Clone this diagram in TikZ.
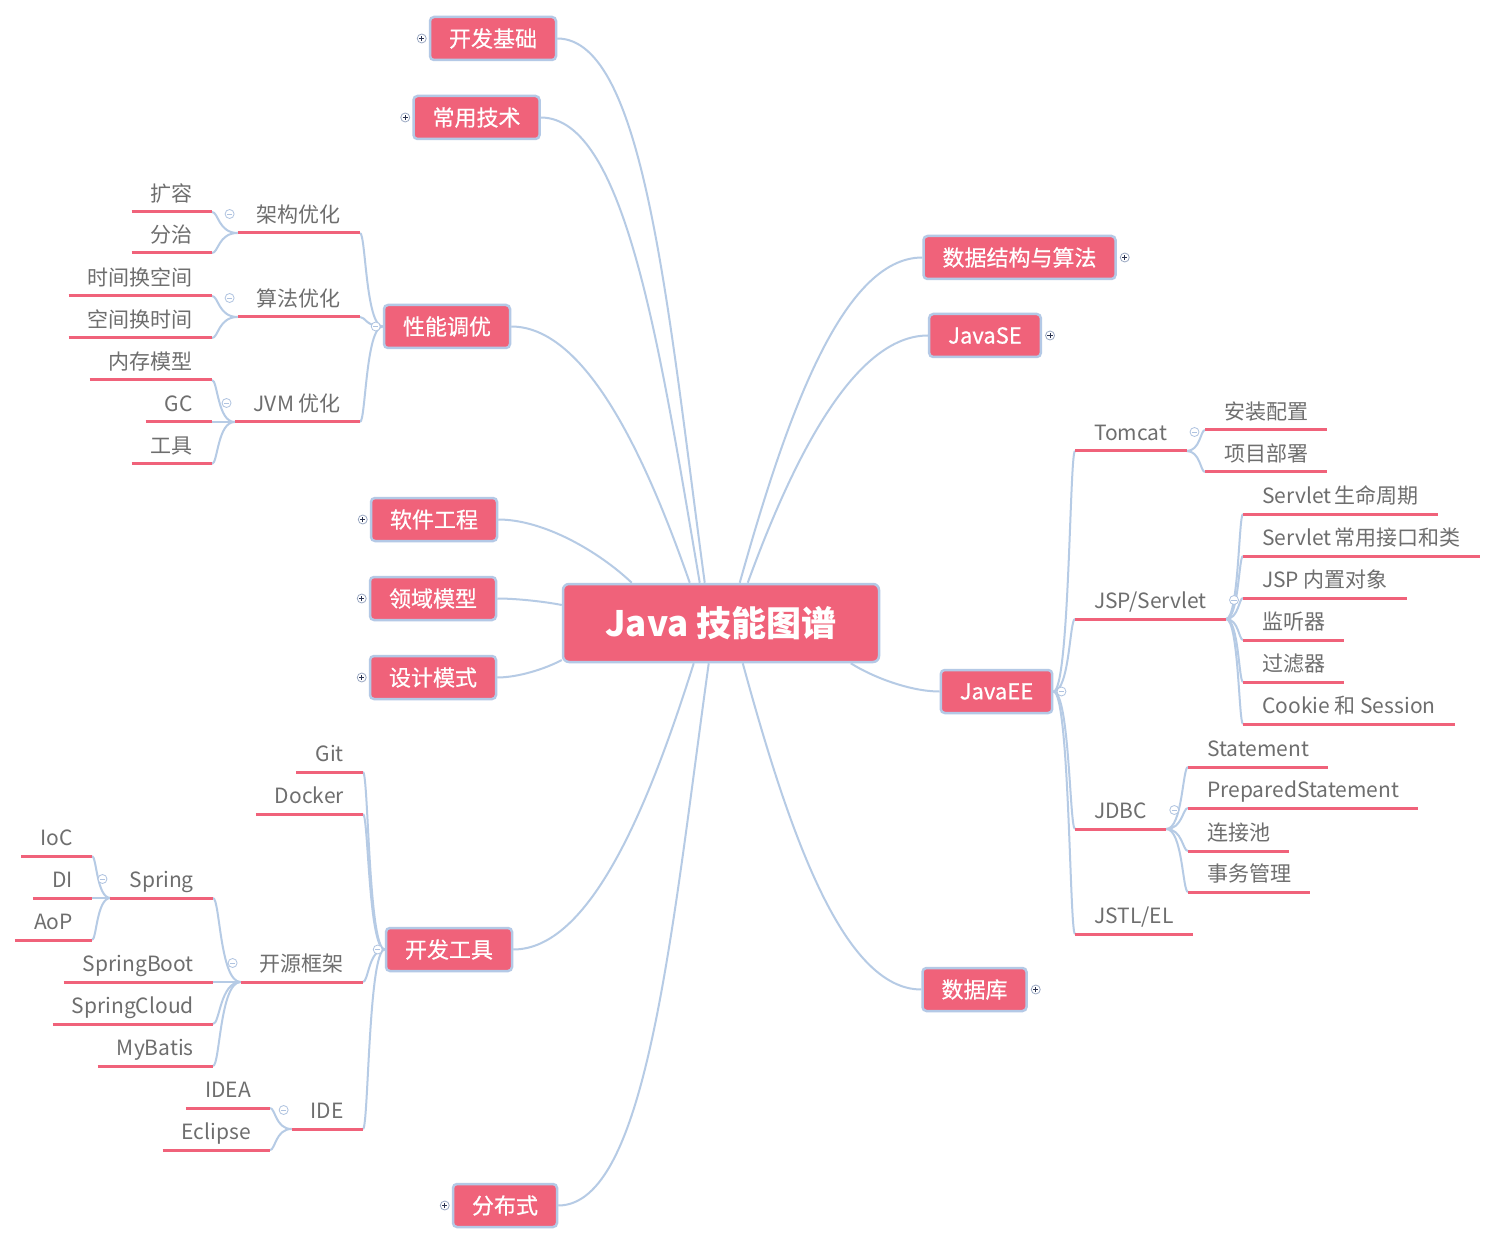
\documentclass[tikz,border=0pt]{standalone}
\usepackage{fontspec}
\setmainfont{Noto Sans CJK SC}
\newfontfamily\mmmedium{Noto Sans CJK SC}[FakeBold=0.6]
\usetikzlibrary{calc,backgrounds}
\pgfdeclarelayer{paper}
\pgfsetlayers{paper,background,main}
\definecolor{mmpink}{HTML}{F0627A}
\definecolor{mmline}{HTML}{B6CBE5}
\definecolor{mmborder}{HTML}{B4C9E6}
\definecolor{mmgray}{HTML}{6E6E6E}
\definecolor{btnring}{HTML}{9AA8C2}
\definecolor{btnsign}{HTML}{2B3350}
\definecolor{colring}{HTML}{AFC3E0}
\tikzset{
  conn/.style={draw=mmline, line width=2pt},
  branchbox/.style={draw=mmborder, line width=2.5pt, fill=mmpink, rounded corners=4pt, text=white, font=\mmmedium\fontsize{22}{26}\selectfont, inner xsep=19pt, inner ysep=0pt, minimum height=43pt},
  rootbox/.style={draw=mmborder, line width=2.5pt, fill=mmpink, rounded corners=6pt, text=white, font=\fontsize{35}{40}\selectfont\bfseries, minimum width=316pt, minimum height=78pt},
  uline/.style={draw=mmpink, line width=3pt},
  leafbase/.style={text=mmgray, font=\fontsize{21}{25}\selectfont, inner xsep=19pt, inner ysep=5pt, text height=15pt, text depth=5pt, append after command={(\tikzlastnode.south west) edge[uline] (\tikzlastnode.south east)}},
  leafL/.style={leafbase, anchor=south east},
  leafR/.style={leafbase, anchor=south west},
  expbtn/.style={circle, draw=btnring, fill=white, line width=0.8pt, minimum size=9pt, inner sep=0pt, path picture={\draw[btnsign, line width=0.9pt] ([xshift=-2.6pt]path picture bounding box.center) -- ([xshift=2.6pt]path picture bounding box.center) ([yshift=-2.6pt]path picture bounding box.center) -- ([yshift=2.6pt]path picture bounding box.center);}},
  colbtn/.style={circle, draw=colring, fill=white, line width=0.8pt, minimum size=9pt, inner sep=0pt, path picture={\draw[colring, line width=0.9pt] ([xshift=-2.6pt]path picture bounding box.center) -- ([xshift=2.6pt]path picture bounding box.center);}},
}
\newcommand\mmroot[3]{\draw[conn] let \p1=(#2), \p2=(#3) in (\p1) .. controls ({\x1+0.3*(\x2-\x1)#1 0.08*abs(\y2-\y1)},\y1) and ({\x2-0.25*(\x2-\x1)},{0.5*(\y1+\y2)}) .. (\p2);}
\newcommand\mmsub[2]{\draw[conn] let \p1=(#1), \p2=(#2) in (\p1) .. controls ({\x2+0.25*(\x1-\x2)},\y1) and ({\x2+0.25*(\x1-\x2)},\y2) .. (\p2);}
\begin{document}
\begin{tikzpicture}[x=1pt,y=-1pt]
\begin{pgfonlayer}{paper}
\fill[white] (0,0) rectangle (1500,1246);
\end{pgfonlayer}
\path[use as bounding box] (0,0) rectangle (1500,1246);

% root and main branches
\node[rootbox] (root) at (721,623) {Java 技能图谱};
\node[branchbox] (kfjc) at (493,38.5) {开发基础};
\node[branchbox] (cyjs) at (476.5,117.5) {常用技术};
\node[branchbox] (xntu) at (447,326.5) {性能调优};
\node[branchbox] (rjgc) at (434,519.5) {软件工程};
\node[branchbox] (lymx) at (433,598.5) {领域模型};
\node[branchbox] (sjms) at (433,677.5) {设计模式};
\node[branchbox] (kfgj) at (449,949.5) {开发工具};
\node[branchbox] (fbs) at (505,1205.5) {分布式};
\node[branchbox] (sjjg) at (1019.5,257.5) {数据结构与算法};
\node[branchbox] (jse) at (985,335.5) {JavaSE};
\node[branchbox] (jee) at (996.5,691.5) {JavaEE};
\node[branchbox] (sjk) at (974.5,989.5) {数据库};

% performance subtree
\node[leafL] (jg) at (360,233) {架构优化};
\node[leafL] (sf) at (360,317) {算法优化};
\node[leafL] (jvm) at (360,422) {JVM 优化};
\node[leafL] (ky) at (212,212) {扩容};
\node[leafL] (fz) at (212,253) {分治};
\node[leafL] (sjhk) at (212,296) {时间换空间};
\node[leafL] (kjhs) at (212,338) {空间换时间};
\node[leafL] (nc) at (212,380) {内存模型};
\node[leafL] (gc) at (212,422) {GC};
\node[leafL] (gj) at (212,464) {工具};

% JavaEE subtree
\node[leafR] (tomcat) at (1075,451) {Tomcat};
\node[leafR] (jsp) at (1075,619) {JSP/Servlet};
\node[leafR] (jdbc) at (1075,829) {JDBC};
\node[leafR] (jstl) at (1075,934) {JSTL/EL};
\node[leafR] (azpz) at (1205,430) {安装配置};
\node[leafR] (xmbs) at (1205,472) {项目部署};
\node[leafR] (sv1) at (1243,514) {Servlet\hspace{3pt}生命周期};
\node[leafR] (sv2) at (1243,556) {Servlet\hspace{3pt}常用接口和类};
\node[leafR] (sv3) at (1243,598) {JSP 内置对象};
\node[leafR] (sv4) at (1243,640) {监听器};
\node[leafR] (sv5) at (1243,682) {过滤器};
\node[leafR] (sv6) at (1243,724) {Cookie 和 Session};
\node[leafR] (jd1) at (1188,767) {Statement};
\node[leafR] (jd2) at (1188,808) {PreparedStatement};
\node[leafR] (jd3) at (1188,851) {连接池};
\node[leafR] (jd4) at (1188,892) {事务管理};

% tools subtree
\node[leafL] (git) at (363,772) {Git};
\node[leafL] (docker) at (363,814) {Docker};
\node[leafL] (kyjk) at (363,982) {开源框架};
\node[leafL] (ide) at (363,1129) {IDE};
\node[leafL] (spring) at (213,898) {Spring};
\node[leafL] (sboot) at (213,982) {SpringBoot};
\node[leafL] (scloud) at (213,1024) {SpringCloud};
\node[leafL] (mybatis) at (213,1066) {MyBatis};
\node[leafL] (ioc) at (92,856) {IoC};
\node[leafL] (di) at (92,898) {DI};
\node[leafL] (aop) at (92,940) {AoP};
\node[leafL] (idea) at (270,1108) {IDEA};
\node[leafL] (eclipse) at (270,1150) {Eclipse};

\begin{scope}[on background layer]
% root connectors
\mmroot{+}{kfjc.east}{$(root.north west)+(143,0)$}
\mmroot{+}{cyjs.east}{$(root.north west)+(138,0)$}
\mmroot{+}{xntu.east}{$(root.north west)+(128,0)$}
\mmroot{+}{rjgc.east}{$(root.north west)+(70,0)$}
\mmroot{+}{lymx.east}{$(root.west)+(0,-18)$}
\mmroot{+}{sjms.east}{$(root.west)+(0,37)$}
\mmroot{+}{kfgj.east}{$(root.south west)+(132,0)$}
\mmroot{+}{fbs.east}{$(root.south west)+(147,0)$}
\mmroot{-}{sjjg.west}{$(root.north west)+(178,0)$}
\mmroot{-}{jse.west}{$(root.north west)+(186,0)$}
\mmroot{-}{jee.west}{$(root.south west)+(289,0)$}
\mmroot{-}{sjk.west}{$(root.south west)+(181,0)$}
% performance
\mmsub{xntu.west}{jg.south east}
\mmsub{xntu.west}{sf.south east}
\mmsub{xntu.west}{jvm.south east}
\mmsub{jg.south west}{ky.south east}
\mmsub{jg.south west}{fz.south east}
\mmsub{sf.south west}{sjhk.south east}
\mmsub{sf.south west}{kjhs.south east}
\mmsub{jvm.south west}{nc.south east}
\mmsub{jvm.south west}{gc.south east}
\mmsub{jvm.south west}{gj.south east}
% JavaEE
\mmsub{jee.east}{tomcat.south west}
\mmsub{jee.east}{jsp.south west}
\mmsub{jee.east}{jdbc.south west}
\mmsub{jee.east}{jstl.south west}
\mmsub{tomcat.south east}{azpz.south west}
\mmsub{tomcat.south east}{xmbs.south west}
\mmsub{jsp.south east}{sv1.south west}
\mmsub{jsp.south east}{sv2.south west}
\mmsub{jsp.south east}{sv3.south west}
\mmsub{jsp.south east}{sv4.south west}
\mmsub{jsp.south east}{sv5.south west}
\mmsub{jsp.south east}{sv6.south west}
\mmsub{jdbc.south east}{jd1.south west}
\mmsub{jdbc.south east}{jd2.south west}
\mmsub{jdbc.south east}{jd3.south west}
\mmsub{jdbc.south east}{jd4.south west}
% tools
\mmsub{kfgj.west}{git.south east}
\mmsub{kfgj.west}{docker.south east}
\mmsub{kfgj.west}{kyjk.south east}
\mmsub{kfgj.west}{ide.south east}
\mmsub{kyjk.south west}{spring.south east}
\mmsub{kyjk.south west}{sboot.south east}
\mmsub{kyjk.south west}{scloud.south east}
\mmsub{kyjk.south west}{mybatis.south east}
\mmsub{spring.south west}{ioc.south east}
\mmsub{spring.south west}{di.south east}
\mmsub{spring.south west}{aop.south east}
\mmsub{ide.south west}{idea.south east}
\mmsub{ide.south west}{eclipse.south east}
\end{scope}

% expand / collapse buttons
\node[expbtn] (bkfjc) at ($(kfjc.west)+(-7,0)$) {};
\node[expbtn] (bcyjs) at ($(cyjs.west)+(-7,0)$) {};
\node[colbtn] (bxntu) at ($(xntu.west)+(-7,0)$) {};
\node[expbtn] (brjgc) at ($(rjgc.west)+(-7,0)$) {};
\node[expbtn] (blymx) at ($(lymx.west)+(-7,0)$) {};
\node[expbtn] (bsjms) at ($(sjms.west)+(-7,0)$) {};
\node[colbtn] (bkfgj) at ($(kfgj.west)+(-7,0)$) {};
\node[expbtn] (bfbs) at ($(fbs.west)+(-7,0)$) {};
\node[expbtn] (bsjjg) at ($(sjjg.east)+(8,0)$) {};
\node[expbtn] (bjse) at ($(jse.east)+(8,0)$) {};
\node[colbtn] (bjee) at ($(jee.east)+(8,0)$) {};
\node[expbtn] (bsjk) at ($(sjk.east)+(8,0)$) {};
\node[colbtn] (bjg) at ($(jg.south west)+(-8,-19)$) {};
\node[colbtn] (bsf) at ($(sf.south west)+(-8,-19)$) {};
\node[colbtn] (bjvm) at ($(jvm.south west)+(-8,-19)$) {};
\node[colbtn] (bkyjk) at ($(kyjk.south west)+(-8,-19)$) {};
\node[colbtn] (bspring) at ($(spring.south west)+(-8,-19)$) {};
\node[colbtn] (bide) at ($(ide.south west)+(-8,-19)$) {};
\node[colbtn] (btomcat) at ($(tomcat.south east)+(8,-19)$) {};
\node[colbtn] (bjsp) at ($(jsp.south east)+(8,-19)$) {};
\node[colbtn] (bjdbc) at ($(jdbc.south east)+(8,-19)$) {};
\end{tikzpicture}
\end{document}
